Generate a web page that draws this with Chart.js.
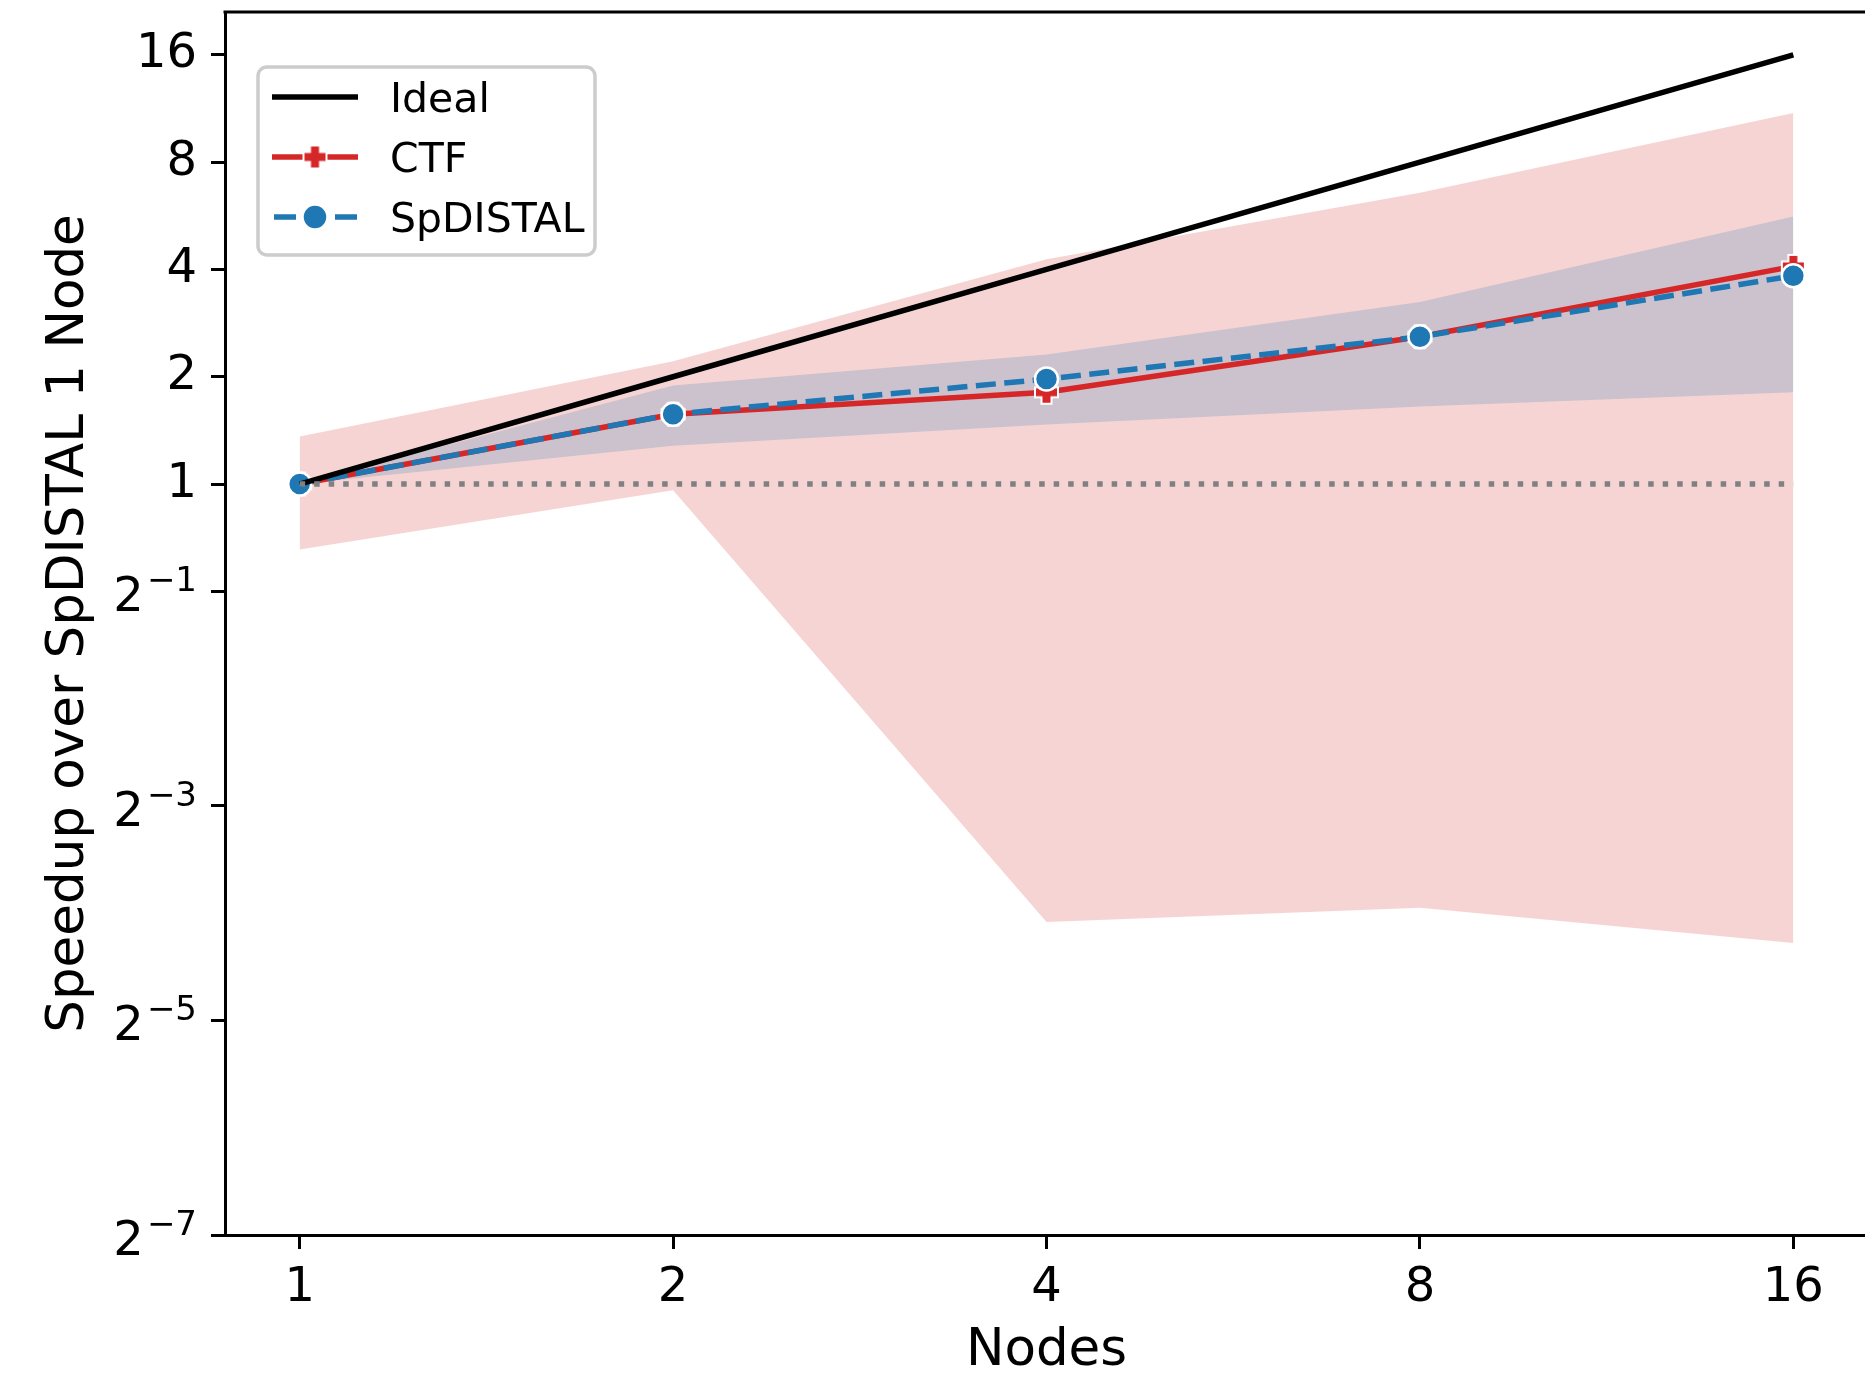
<!DOCTYPE html>
<html>
<head>
<meta charset="utf-8">
<script src="https://cdn.jsdelivr.net/npm/chart.js@4.4.1/dist/chart.umd.min.js"></script>
<style>
  html, body { margin: 0; padding: 0; background: #fff; overflow: hidden; }
  #clip { width: 1865px; height: 1375px; overflow: hidden; }
  /* the plot runs a few pixels past the right edge in the original figure */
  #wrap { width: 1880px; height: 1375px; }
</style>
</head>
<body>
<div id="clip"><div id="wrap"><canvas id="chart"></canvas></div></div>
<script>
// values (speedup relative to SpDISTAL on 1 node)
const nodes = [1, 2, 4, 8, 16];
const ideal = [1, 2, 4, 8, 16];
const ctfSpeedup = [1, 1.57, 1.81, 2.59, 4.08];
const ctfLow = [0.655, 0.96, 0.059, 0.0647, 0.0515];
const ctfHigh = [1.36, 2.21, 4.27, 6.57, 11.0];
const spdistalSpeedup = [1, 1.57, 1.97, 2.59, 3.84];
const spdistalLow = [1, 1.28, 1.47, 1.65, 1.81];
const spdistalHigh = [1, 1.89, 2.31, 3.24, 5.63];
const baselineX = [1, 16];
const baselineY = [1, 1];
const yTicks = [2 ** -7, 2 ** -5, 2 ** -3, 2 ** -1, 1, 2, 4, 8, 16];
const xTicks = [1, 2, 4, 8, 16];

const RED = "#d62728";
const BLUE = "#1f77b4";
const FONT = "DejaVu Sans";
const LW = 5.5;

const pts = (xs, ys) => xs.map((x, i) => ({ x, y: ys[i] }));

// matplotlib "P" marker: filled plus with a white edge
function plusMarker(size, arm, edge, color) {
  const c = document.createElement("canvas");
  const s = Math.ceil(size + edge * 2 + 2);
  c.width = c.height = s;
  const g = c.getContext("2d");
  const m = s / 2, h = size / 2, a = arm / 2;
  g.beginPath();
  g.moveTo(m - a, m - h); g.lineTo(m + a, m - h); g.lineTo(m + a, m - a);
  g.lineTo(m + h, m - a); g.lineTo(m + h, m + a); g.lineTo(m + a, m + a);
  g.lineTo(m + a, m + h); g.lineTo(m - a, m + h); g.lineTo(m - a, m + a);
  g.lineTo(m - h, m + a); g.lineTo(m - h, m - a); g.lineTo(m - a, m - a);
  g.closePath();
  g.lineWidth = edge * 2; g.strokeStyle = "#fff"; g.lineJoin = "miter"; g.stroke();
  g.fillStyle = color; g.fill();
  return c;
}
const ctfMarker = plusMarker(21, 8, 2, RED);

const band = (data, color, fillTo, order) => ({
  data, fill: fillTo, backgroundColor: color, borderWidth: 0,
  borderColor: "rgba(0,0,0,0)", pointRadius: 0, order,
});

// exponents for the sub-unit y labels, drawn like mathtext 2^{-n}
const powerLabels = {
  id: "powerLabels",
  afterDraw(chart) {
    const ys = chart.scales.y, ctx = chart.ctx;
    const right = 197;
    ctx.save();
    ctx.fillStyle = "#000";
    ctx.textBaseline = "alphabetic";
    yTicks.filter(v => v < 1).forEach(v => {
      const py = ys.getPixelForValue(v);
      const exp = "\u2212" + Math.abs(Math.round(Math.log2(v)));
      ctx.font = `34px "${FONT}"`;
      const w = ctx.measureText(exp).width;
      ctx.textAlign = "left";
      ctx.fillText(exp, right - w, py);
      ctx.font = `48px "${FONT}"`;
      ctx.textAlign = "right";
      ctx.fillText("2", right - w - 3, py + 20);
    });
    ctx.restore();
  },
};

const frame = {
  id: "frame",
  afterDraw(chart) {
    const { ctx, chartArea: a } = chart;
    ctx.save();
    ctx.strokeStyle = "#000"; ctx.lineWidth = 3;
    ctx.beginPath();
    ctx.moveTo(a.left - 1.5, a.top); ctx.lineTo(a.right, a.top);
    ctx.moveTo(a.right, a.top); ctx.lineTo(a.right, a.bottom);
    ctx.stroke();
    ctx.restore();
  },
};

const legendBox = {
  id: "legendBox",
  afterDraw(chart) {
    const ctx = chart.ctx;
    const x0 = 258, y0 = 67, w = 337, h = 188;
    ctx.save();
    ctx.beginPath();
    ctx.roundRect(x0, y0, w, h, 9);
    ctx.fillStyle = "rgba(255,255,255,0.8)"; ctx.fill();
    ctx.lineWidth = 3.5; ctx.strokeStyle = "#cccccc"; ctx.stroke();

    const rows = [
      { label: "Ideal", color: "#000", dash: [], marker: null, x0: 272, x1: 358 },
      { label: "CTF", color: RED, dash: [], marker: "plus", x0: 272, x1: 358 },
      { label: "SpDISTAL", color: BLUE, dash: [22, 8.5], marker: "circle", x0: 274, x1: 357 },
    ];
    const mx = 315;
    rows.forEach((r, i) => {
      const cy = 97 + i * 60;
      ctx.beginPath();
      ctx.setLineDash(r.dash);
      ctx.lineDashOffset = 0;
      ctx.strokeStyle = r.color; ctx.lineWidth = LW; ctx.lineCap = "butt";
      ctx.moveTo(r.x0, cy); ctx.lineTo(r.x1, cy); ctx.stroke();
      ctx.setLineDash([]);
      if (r.marker === "plus") {
        ctx.drawImage(ctfMarker, mx - ctfMarker.width / 2, cy - ctfMarker.height / 2);
      } else if (r.marker === "circle") {
        ctx.beginPath(); ctx.arc(mx, cy, 12.5, 0, Math.PI * 2);
        ctx.fillStyle = BLUE; ctx.fill();
        ctx.lineWidth = 2.5; ctx.strokeStyle = "#fff"; ctx.stroke();
      }
      ctx.fillStyle = "#000";
      ctx.font = `41px "${FONT}"`;
      ctx.textAlign = "left"; ctx.textBaseline = "alphabetic";
      ctx.fillText(r.label, 390, cy + 15);
    });
    ctx.restore();
  },
};

const tickGrid = {
  drawOnChartArea: false, drawTicks: true, tickLength: 14,
  tickWidth: 3, tickColor: "#000",
};

new Chart(document.getElementById("chart"), {
  type: "line",
  data: {
    datasets: [
      band(pts(nodes, ctfHigh), "rgba(214,39,40,0.2)", 1, 8),
      band(pts(nodes, ctfLow), "rgba(214,39,40,0.2)", false, 8),
      band(pts(nodes, spdistalHigh), "rgba(31,119,180,0.2)", 3, 6),
      band(pts(nodes, spdistalLow), "rgba(31,119,180,0.2)", false, 6),
      {
        label: "CTF", data: pts(nodes, ctfSpeedup), borderColor: RED,
        borderWidth: LW, pointStyle: ctfMarker, pointRadius: 11, order: 3,
      },
      {
        label: "SpDISTAL", data: pts(nodes, spdistalSpeedup), borderColor: BLUE,
        borderWidth: LW, borderDash: [20, 8.5], pointStyle: "circle",
        pointRadius: 11.5, pointBackgroundColor: BLUE, pointBorderColor: "#fff",
        pointBorderWidth: 2.5, order: 2,
      },
      {
        label: "Ideal", data: pts(nodes, ideal), borderColor: "#000",
        borderWidth: LW, pointRadius: 0, order: 1,
      },
      {
        label: "1x", data: pts(baselineX, baselineY), borderColor: "#808080",
        borderWidth: LW, borderDash: [5.5, 9], pointRadius: 0, order: 0,
      },
    ],
  },
  options: {
    responsive: true,
    maintainAspectRatio: false,
    animation: false,
    devicePixelRatio: 1,
    layout: { autoPadding: false, padding: { top: 12, right: 12, left: 0, bottom: 0 } },
    elements: { line: { tension: 0 } },
    plugins: { legend: { display: false }, tooltip: { enabled: false } },
    scales: {
      x: {
        type: "logarithmic",
        min: 2 ** -0.2, max: 2 ** 4.2,
        afterBuildTicks: s => { s.ticks = xTicks.map(v => ({ value: v })); },
        afterFit: s => { s.height = 140; s.paddingLeft = 0; s.paddingRight = 0; },
        ticks: {
          autoSkip: false, maxRotation: 0, padding: 11, color: "#000",
          font: { family: FONT, size: 48 }, callback: v => String(v),
        },
        grid: tickGrid,
        border: { display: true, color: "#000", width: 3 },
        title: {
          display: true, text: "Nodes", color: "#000",
          font: { family: FONT, size: 51.5, lineHeight: 0.8 }, padding: { top: 0, bottom: 3 },
        },
      },
      y: {
        type: "logarithmic",
        min: 2 ** -7, max: 2 ** 4.4,
        afterBuildTicks: s => { s.ticks = yTicks.map(v => ({ value: v })); },
        afterFit: s => { s.width = 225; s.paddingTop = 0; s.paddingBottom = 0; },
        ticks: {
          autoSkip: false, padding: 14, color: "#000",
          font: { family: FONT, size: 48 },
          callback: v => (v >= 1 ? String(v) : ""),
        },
        grid: tickGrid,
        border: { display: true, color: "#000", width: 3 },
        title: {
          display: true, text: "Speedup over SpDISTAL 1 Node", color: "#000",
          font: { family: FONT, size: 51.5, lineHeight: 1.2 }, padding: { top: 39, bottom: 0 },
        },
      },
    },
  },
  plugins: [frame, powerLabels, legendBox],
});
</script>
</body>
</html>
